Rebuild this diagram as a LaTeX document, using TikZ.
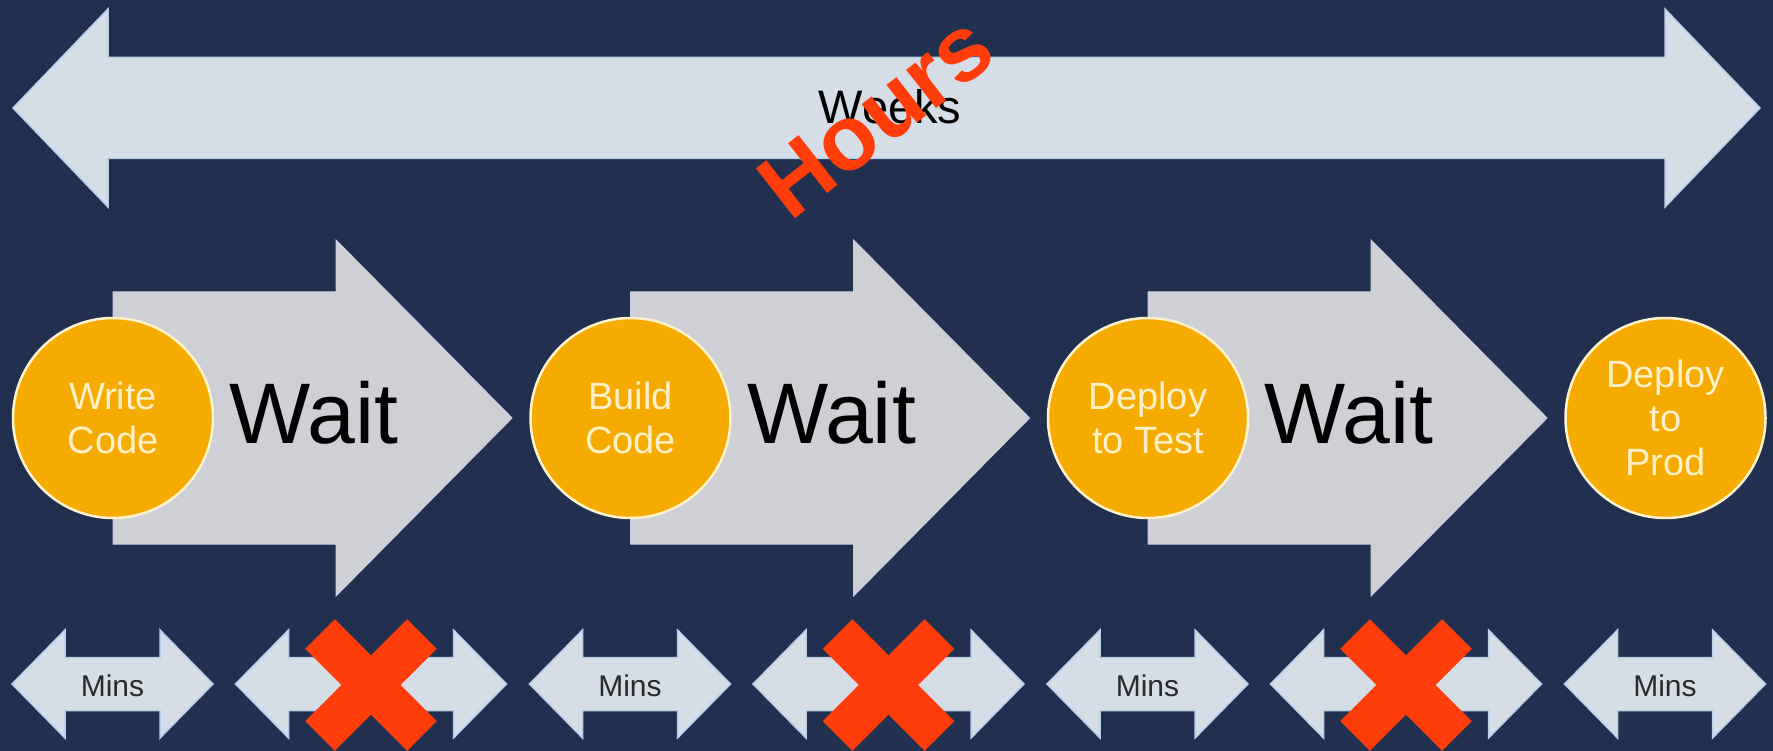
\documentclass[tikz,border=0pt]{standalone}
\usepackage{fontspec}
\setmainfont{Liberation Sans}

\definecolor{bg}{HTML}{223050}
\definecolor{arrowblue}{HTML}{D5DEE6}
\definecolor{arrowedge}{HTML}{B8CFE8}
\definecolor{waitgray}{HTML}{CFD0D6}
\definecolor{waitedge}{HTML}{C8CEE0}
\definecolor{stepgold}{HTML}{F6AB00}
\definecolor{stepedge}{HTML}{FFF2CC}
\definecolor{steptext}{HTML}{FFF0C8}
\definecolor{xred}{HTML}{FF3D0A}
\definecolor{minsink}{HTML}{2A2A2A}

% double-headed arrow on the bottom row: centre x, half width
\newcommand{\twoway}[2]{%
  \path[lightarrow]
    ({#1-#2},684) -- ({#1-#2+53},630) -- ({#1-#2+53},657.5)
    -- ({#1+#2-53},657.5) -- ({#1+#2-53},630) -- ({#1+#2},684)
    -- ({#1+#2-53},738) -- ({#1+#2-53},710.5) -- ({#1-#2+53},710.5)
    -- ({#1-#2+53},738) -- cycle;}

% red cross over a bottom arrow: centre x
\newcommand{\redcross}[1]{%
  \fill[xred, rotate around={45:(#1,685)}] ({#1-72},664) rectangle ({#1+72},706);
  \fill[xred, rotate around={-45:(#1,685)}] ({#1-72},664) rectangle ({#1+72},706);}

\begin{document}
\begin{tikzpicture}[x=1pt, y=-1pt,
  lightarrow/.style={fill=arrowblue, draw=arrowedge, line width=1.5pt, line join=miter},
  waitarrow/.style={fill=waitgray, draw=waitedge, line width=1pt, line join=miter},
  stepcircle/.style={circle, minimum size=200pt, inner sep=0pt, fill=stepgold,
    draw=stepedge, line width=2.5pt, text=steptext, align=center,
    font=\fontsize{38}{44}\selectfont},
  waittext/.style={anchor=base, text=black, font=\fontsize{86}{86}\selectfont},
  minstext/.style={text=minsink, font=\fontsize{30}{30}\selectfont},
]
\useasboundingbox (0,0) rectangle (1773,751);
\fill[bg] (0,0) rectangle (1773,751);

% long double arrow across the top
\path[lightarrow] (13,108) -- (108,9) -- (108,57.5) -- (1665,57.5) -- (1665,9)
  -- (1760,108) -- (1665,207) -- (1665,158.5) -- (108,158.5) -- (108,207) -- cycle;
\node[anchor=base, text=black, font=\fontsize{47}{47}\selectfont] (weeks) at (890,124) {Weeks};
\node[text=xred, rotate=38, inner sep=0pt, font=\bfseries\fontsize{92}{92}\selectfont] (hours) at (876,116) {Hours};

% wait arrows between the steps
\foreach \i in {1,2,3} {
  \path[waitarrow, shift={({(\i-1)*517.5},0)}]
    (113,292) -- (336,292) -- (336,240) -- (512,418) -- (336,596) -- (336,544) -- (113,544) -- cycle;
  \node[waittext] (wait\i) at ({314+(\i-1)*517.5},443) {Wait};
}

% the steps
\node[stepcircle] (write)  at (113,418)    {Write\\Code};
\node[stepcircle] (build)  at (630.5,418)  {Build\\Code};
\node[stepcircle] (test)   at (1148,418)   {Deploy\\to Test};
\node[stepcircle] (prod)   at (1665.5,418) {Deploy\\to\\Prod};

% bottom row: short durations and crossed-out waits
\foreach \c [count=\k] in {112.5,630,1147.5,1665} {
  \twoway{\c}{100.5}
  \node[minstext] (mins\k) at (\c,686) {Mins};
}
\foreach \c in {371,888.5,1406} {
  \twoway{\c}{135.5}
  \redcross{\c}
}
\end{tikzpicture}
\end{document}
